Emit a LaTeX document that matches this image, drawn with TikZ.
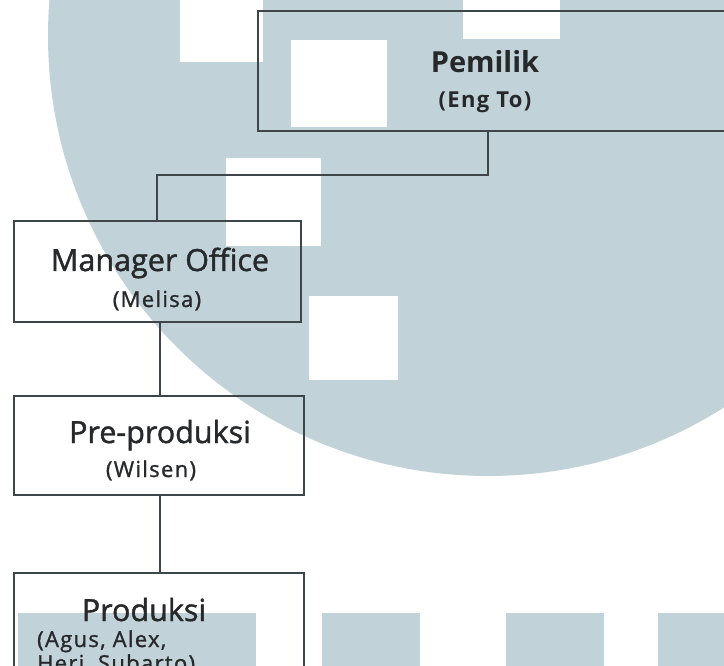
\documentclass[tikz,border=0pt]{standalone}
\usepackage{fontspec}
\setmainfont{Open Sans}
\definecolor{wmblue}{RGB}{193,210,217}
\definecolor{linec}{RGB}{62,70,74}
\definecolor{txtc}{RGB}{38,40,42}
\begin{document}
\begin{tikzpicture}[x=1pt,y=-1pt,
  orgbox/.style={draw=linec, line width=2.2pt, rectangle, inner sep=0pt, anchor=north west},
  conn/.style={draw=linec, line width=2.6pt},
  bigtxt/.style={inner sep=0pt, anchor=base, text=txtc, font=\fontsize{30.5}{34}\selectfont\addfontfeatures{FakeBold=1.4}},
  bigbold/.style={inner sep=0pt, anchor=base, text=txtc, font=\fontsize{29}{33}\selectfont\bfseries},
  smalltxt/.style={inner sep=0pt, anchor=base, text=txtc, font=\fontsize{22}{26}\selectfont\addfontfeatures{LetterSpace=6,FakeBold=1.2}},
  smallbold/.style={inner sep=0pt, anchor=base, text=txtc, font=\fontsize{22}{26}\selectfont\bfseries\addfontfeatures{LetterSpace=6}},
  wmsq/.style={fill=white, draw=none},
  wmbl/.style={fill=wmblue, draw=none}]
\useasboundingbox (0,0) rectangle (724,666);
\clip (0,0) rectangle (724,666);
% watermark background
\fill[white] (0,0) rectangle (724,666);
\fill[wmblue] (488,36) circle[radius=440];
\path[wmsq] (180,0) rectangle (263,62);
\path[wmsq] (291,40) rectangle (387,127);
\path[wmsq] (463,0) rectangle (560,39);
\path[wmsq] (226,158) rectangle (321,246);
\path[wmsq] (309,296) rectangle (398,380);
\path[wmbl] (18,613) rectangle (256,666);
\path[wmbl] (322,613) rectangle (420,666);
\path[wmbl] (506,613) rectangle (604,666);
\path[wmbl] (658,613) rectangle (724,666);
% boxes
\node[orgbox, minimum width=520pt, minimum height=120pt] (pemilik) at (257,10) {};
\node[orgbox, minimum width=287pt, minimum height=101pt] (manager) at (13,220) {};
\node[orgbox, minimum width=290pt, minimum height=99pt] (pre) at (13,395) {};
\node[orgbox, minimum width=290pt, minimum height=150pt] (prod) at (13,572) {};
% texts
\node[bigbold] (pemt) at (485,73) {Pemilik};
\node[smallbold] (pemn) at (485,108) {(Eng To)};
\node[bigtxt] (mant) at (160,271) {Manager Office};
\node[smalltxt] (mann) at (157,307) {(Melisa)};
\node[bigtxt] (pret) at (160,443) {Pre-produksi};
\node[smalltxt] (pren) at (151,477) {(Wilsen)};
\node[bigtxt] (prodt) at (144,621) {Produksi};
\node[smalltxt, anchor=base west] (prodn1) at (37,647) {(Agus, Alex,};
\node[smalltxt, anchor=base west] (prodn2) at (37,671) {Heri, Subarto)};
% connectors
\coordinate (pemdrop) at (488,130);
\coordinate (manrise) at (157,220);
\draw[conn] (pemdrop) -- ++(0,45) -| (manrise);
\coordinate (mandown) at (160,321);
\draw[conn] (mandown) -- (mandown |- pre.north);
\coordinate (predown) at (160,494);
\draw[conn] (predown) -- (predown |- prod.north);
\end{tikzpicture}
\end{document}
